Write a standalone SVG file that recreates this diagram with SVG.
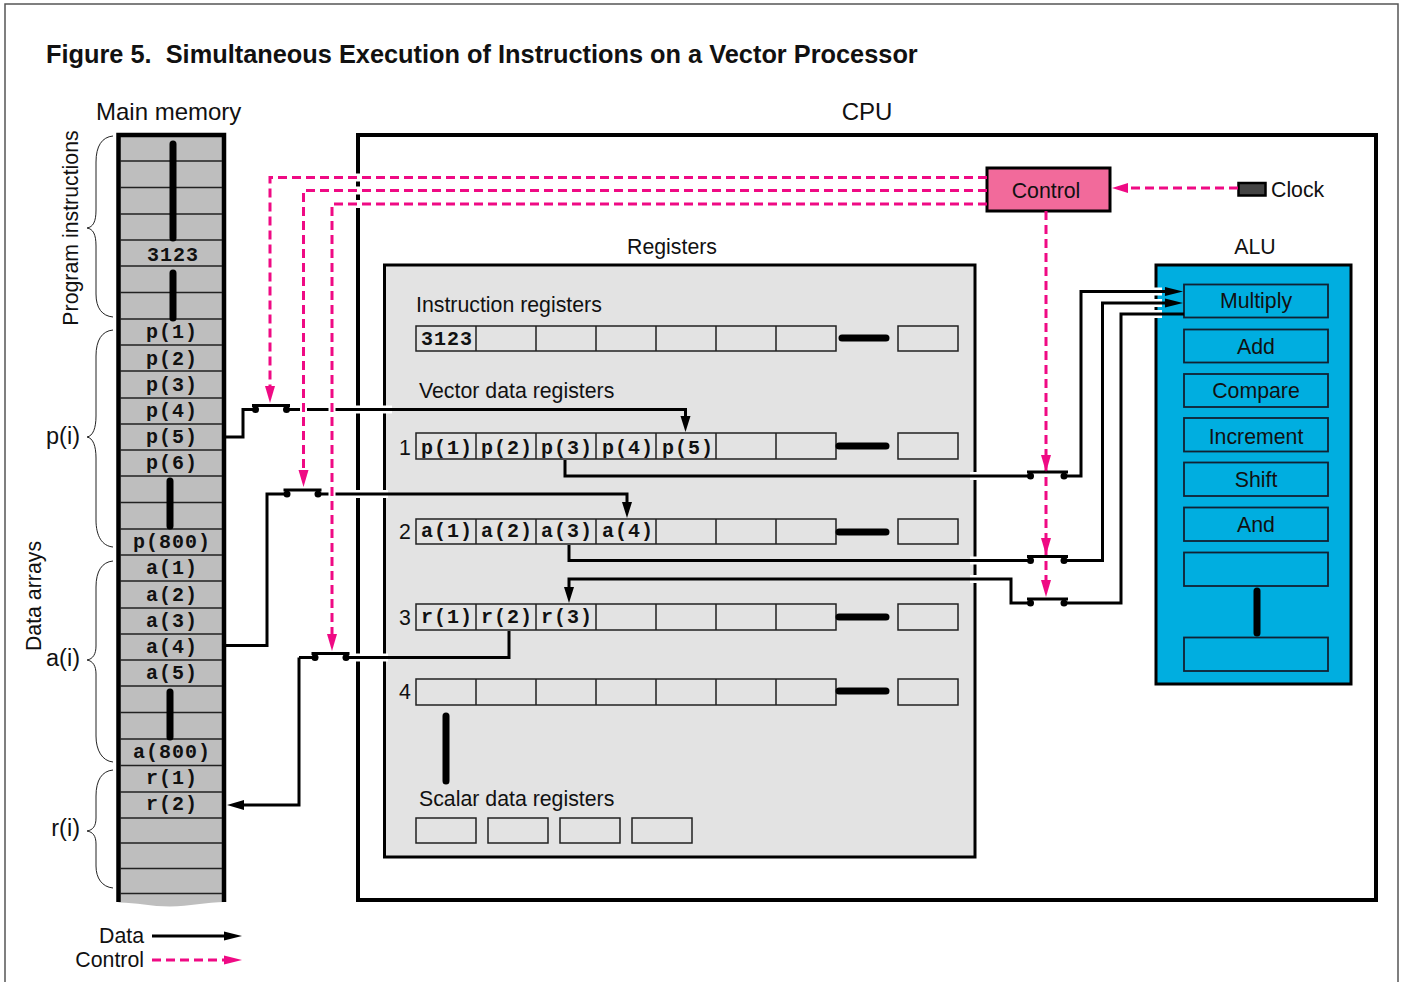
<svg xmlns="http://www.w3.org/2000/svg" width="1403" height="982" viewBox="0 0 1403 982">
<style>
text{font-family:"Liberation Sans",Arial,sans-serif;font-size:21.3px;fill:#111}
.m{font-family:"Liberation Mono","Courier New",monospace;font-size:20px;font-weight:bold;letter-spacing:1px;text-anchor:middle}
.c{text-anchor:middle}
.e{text-anchor:end}
.cell{fill:none;stroke:#222;stroke-width:1.5}
.bar{stroke:#000;stroke-width:7;stroke-linecap:round;fill:none}
.brace{fill:none;stroke:#222;stroke-width:1}
.d{fill:none;stroke:#000;stroke-width:3}
.h{fill:none;stroke:#fff;stroke-width:8}
.p{fill:none;stroke:#ef0a84;stroke-width:3;stroke-dasharray:9 5}
.ph{fill:#ef0a84}
.ah{fill:#000}
.alu{fill:none;stroke:#123;stroke-width:1.8}
</style>
<defs>
<g id="sw"><path d="M-19 -4H19" stroke="#000" stroke-width="3" fill="none"/><circle cx="-15.500" cy="0" r="3.500" fill="#000"/><circle cx="15.500" cy="0" r="3.500" fill="#000"/></g>
<g id="sw2"><path d="M-20 -4H21" stroke="#000" stroke-width="3" fill="none"/><circle cx="-16.500" cy="0" r="3.500" fill="#000"/><circle cx="17" cy="0" r="3.500" fill="#000"/></g>
<path id="ad" d="M-5 -17H5L0 0Z" class="ph"/>
</defs>
<path id="frame" d="M5 982V4H1398V982" fill="none" stroke="#555" stroke-width="1.500"/>
<text x="46" y="63" style="font-size:25.350px;font-weight:bold">Figure 5.&#160; Simultaneous Execution of Instructions on a Vector Processor</text>

<g id="memory">
<text x="96" y="120" style="font-size:24px">Main memory</text>
<rect x="118.500" y="135" width="105.500" height="773" fill="#bebebe"/>
<path d="M116 902.500C135 902 150 906.500 170 906.500S205 902 226 902V912H116Z" fill="#fff"/>
<path d="M118.500 902V135H224V902" fill="none" stroke="#000" stroke-width="4.500"/>
<path d="M120 161H222M120 187.500H222M120 214H222M120 240H222M120 266H222M120 292.500H222M120 319H222M120 345H222M120 371H222M120 398H222M120 424H222M120 450H222M120 476H222M120 502.500H222M120 529H222M120 555H222M120 581H222M120 608H222M120 634H222M120 660H222M120 686H222M120 712.500H222M120 739H222M120 765.500H222M120 792H222M120 818H222M120 843H222M120 868.500H222M120 893.500H222" stroke="#222" stroke-width="1.500" fill="none"/>
<path class="bar" d="M173 144V238M173 273V318M170 481V526M170 692V737"/>
<text class="m" x="173" y="261">3123</text>
<text class="m" x="172" y="338">p(1)</text><text class="m" x="172" y="365">p(2)</text><text class="m" x="172" y="391">p(3)</text><text class="m" x="172" y="417">p(4)</text><text class="m" x="172" y="443">p(5)</text><text class="m" x="172" y="469">p(6)</text><text class="m" x="172" y="548">p(800)</text>
<text class="m" x="172" y="574">a(1)</text><text class="m" x="172" y="601">a(2)</text><text class="m" x="172" y="627">a(3)</text><text class="m" x="172" y="653">a(4)</text><text class="m" x="172" y="679">a(5)</text><text class="m" x="172" y="758">a(800)</text>
<text class="m" x="172" y="784">r(1)</text><text class="m" x="172" y="810">r(2)</text>
</g>

<g id="braces">
<path class="brace" d="M113 136C102 137 96 146 96 162V210C96 222 93 227 87 228C93 229 96 234 96 246V294C96 308 102 316 113 317"/>
<path class="brace" d="M113 330C102 331 96 340 96 356V416C96 428 93 436 87 437C93 438 96 446 96 458V520C96 536 102 546 113 547"/>
<path class="brace" d="M113 561C102 562 96 571 96 587V646C96 654 93 659 87 660C93 661 96 666 96 674V736C96 750 102 761 113 762"/>
<path class="brace" d="M113 770C102 771 96 780 96 796V818C96 826 93 830 87 831C93 832 96 836 96 844V866C96 878 102 887 113 888"/>
<text x="78" y="228" class="c" transform="rotate(-90 78 228)">Program instructions</text>
<text x="41" y="596" class="c" transform="rotate(-90 41 596)">Data arrays</text>
<text x="80" y="444" class="e" style="font-size:23.500px">p(i)</text>
<text x="80" y="666" class="e" style="font-size:23.500px">a(i)</text>
<text x="80" y="836" class="e" style="font-size:23.500px">r(i)</text>
</g>

<g id="cpu">
<text x="867" y="120" class="c" style="font-size:24px">CPU</text>
<rect x="358" y="135" width="1018" height="765" fill="#fff" stroke="#000" stroke-width="4"/>
</g>

<g id="registers">
<text x="672" y="254" class="c">Registers</text>
<rect x="384.500" y="265" width="590.500" height="592" fill="#e3e3e3" stroke="#000" stroke-width="3"/>
<text x="416" y="312">Instruction registers</text>
<text x="419" y="398">Vector data registers</text>
<text x="419" y="806">Scalar data registers</text>
<text x="399" y="455">1</text><text x="399" y="539">2</text><text x="399" y="625">3</text><text x="399" y="699">4</text>
<path class="cell" d="M416 326H836V351H416ZM476 326V351M536 326V351M596 326V351M656 326V351M716 326V351M776 326V351M898 326H958V351H898Z"/>
<path class="cell" d="M416 433H836V459H416ZM476 433V459M536 433V459M596 433V459M656 433V459M716 433V459M776 433V459M898 433H958V459H898Z"/>
<path class="cell" d="M416 519H836V544H416ZM476 519V544M536 519V544M596 519V544M656 519V544M716 519V544M776 519V544M898 519H958V544H898Z"/>
<path class="cell" d="M416 604H836V630H416ZM476 604V630M536 604V630M596 604V630M656 604V630M716 604V630M776 604V630M898 604H958V630H898Z"/>
<path class="cell" d="M416 679H836V705H416ZM476 679V705M536 679V705M596 679V705M656 679V705M716 679V705M776 679V705M898 679H958V705H898Z"/>
<path class="cell" d="M416 818H476V843H416ZM488 818H548V843H488ZM560 818H620V843H560ZM632 818H692V843H632Z"/>
<path class="bar" d="M842 338H886M839 446H886M839 532H886M839 617H886M839 691H886M446 716V781"/>
<text class="m" x="447" y="345">3123</text>
<text class="m" x="447" y="454">p(1)</text><text class="m" x="507" y="454">p(2)</text><text class="m" x="567" y="454">p(3)</text><text class="m" x="628" y="454">p(4)</text><text class="m" x="688" y="454">p(5)</text>
<text class="m" x="447" y="537">a(1)</text><text class="m" x="507" y="537">a(2)</text><text class="m" x="567" y="537">a(3)</text><text class="m" x="628" y="537">a(4)</text>
<text class="m" x="447" y="623">r(1)</text><text class="m" x="507" y="623">r(2)</text><text class="m" x="567" y="623">r(3)</text>
</g>

<g id="alu">
<text x="1255" y="254" class="c">ALU</text>
<rect x="1156" y="265" width="195" height="419" fill="#00aee0" stroke="#000" stroke-width="3"/>
<g class="alu"><rect x="1184" y="284.500" width="144" height="33"/><rect x="1184" y="329.500" width="144" height="33"/><rect x="1184" y="374" width="144" height="33"/><rect x="1184" y="418" width="144" height="33.500"/><rect x="1184" y="462.500" width="144" height="33.500"/><rect x="1184" y="507.500" width="144" height="33.500"/><rect x="1184" y="552.500" width="144" height="33.500"/><rect x="1184" y="637.500" width="144" height="33.500"/></g>
<text x="1256" y="308" class="c">Multiply</text><text x="1256" y="354" class="c">Add</text><text x="1256" y="398" class="c">Compare</text><text x="1256" y="444" class="c">Increment</text><text x="1256" y="487" class="c">Shift</text><text x="1256" y="532" class="c">And</text>
<path class="bar" d="M1257 591V633"/>
</g>

<g id="control">
<rect x="987" y="168" width="123" height="43" fill="#f26a9b" stroke="#000" stroke-width="3"/>
<text x="1046" y="198" class="c">Control</text>
</g>
<g id="clock">
<rect x="1238.500" y="183" width="27" height="12.500" fill="#444" stroke="#000" stroke-width="2.500"/>
<text x="1271" y="197">Clock</text>
</g>

<g id="connectors">
<path class="h" d="M352 409.500H392M352 494H388M352 657.500H388M970 476H980M970 560.500H980M970 579H980M1150 291.500H1162M1150 303H1162M1150 314H1162M352 177.500H364M352 190.500H364M352 204H364"/>
<path class="d" d="M226 437H243V409.500H256M286 409.500H685.500V420M226 645.500H267V494H287M318 494H627V506M345 657.500H509V631M299 657.500H316M299 657.500V805H240M565 460V476H1030M1064 476H1081V291.500H1170M569 545V560.500H1030M1064 560.500H1102.500V303H1170M569 590V579H1011V603H1030M1064 603H1121V314H1184"/>
<path d="M303.500 405V414M332 405V414M332 489.500V498.500" stroke="#fff" stroke-width="7" fill="none"/>
<path class="p" d="M987 177.500H270V390M987 190.500H303.500V474M987 204H332V638M1046 211V585M1238 188H1126"/>
<use href="#sw" x="271" y="409.500"/><use href="#sw" x="302.500" y="494"/><use href="#sw" x="330.500" y="657.500"/>
<use href="#sw2" x="1047" y="476"/><use href="#sw2" x="1047" y="560.500"/><use href="#sw2" x="1047" y="603"/>
<use href="#ad" x="270" y="403"/><use href="#ad" x="303.500" y="487"/><use href="#ad" x="332" y="651"/>
<use href="#ad" x="1046" y="472"/><use href="#ad" x="1046" y="555"/><use href="#ad" x="1046" y="597"/>
<path class="ph" d="M1112 188L1128 183V193Z"/>
<path class="ah" d="M685.500 432L680.500 416H690.500ZM627 518L622 502H632ZM569 603L564 587H574ZM227 805L244 800V810ZM1183 291.500L1165 287V296ZM1183 303L1165 298.500V307.500Z"/>
</g>

<g id="legend">
<text x="144" y="943" class="e">Data</text><text x="144" y="967" class="e">Control</text>
<path class="d" d="M152 936H226"/>
<path class="ah" d="M242 936L224 931.500V940.500Z"/>
<path class="p" d="M152 960H226"/>
<path class="ph" d="M242 960L224 955.500V964.500Z"/>
</g>
</svg>
